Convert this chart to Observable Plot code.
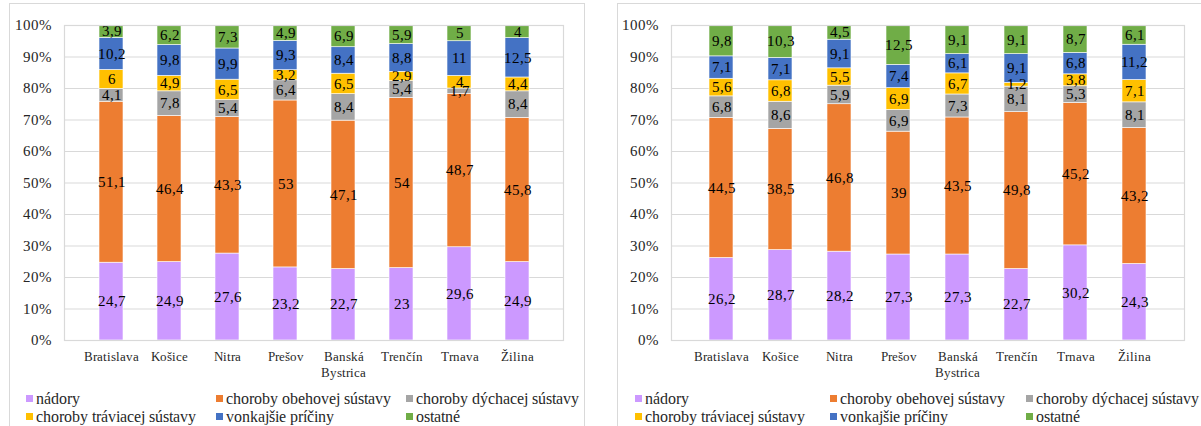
<!DOCTYPE html>
<html lang="sk"><head><meta charset="utf-8">
<script src="https://cdn.jsdelivr.net/npm/d3@7"></script>
<script src="https://cdn.jsdelivr.net/npm/@observablehq/plot@0.6"></script>
<style>
@font-face{font-family:"ChartSerif";src:local("Liberation Serif"),local("LiberationSerif"),local("LiberationSerif-Regular"),local("Times New Roman");}
html,body{margin:0;padding:0;background:#fff;width:1201px;height:426px;overflow:hidden;font-family:"ChartSerif","Liberation Serif","Times New Roman",serif;}
.box{position:absolute;border:1px solid #D9D9D9;box-sizing:border-box;}
.panel{position:absolute;top:0;}
.item{position:absolute;font-size:16px;color:#262626;white-space:nowrap;line-height:16px;height:16px;}
.item .sw{position:absolute;left:0;top:4px;width:7px;height:7px;}
.item .lb{position:absolute;left:10px;top:0;}
</style>
</head><body>
<div class="box" style="left:9px;top:3px;width:576px;height:440px;"></div>
<div class="box" style="left:617px;top:3px;width:600px;height:440px;"></div>
<div id="left" class="panel" style="left:0px;"></div>
<div id="right" class="panel" style="left:600px;"></div>
<div id="legL"></div>
<div id="legR"></div>
<script>
const regions = ["Bratislava","Košice","Nitra","Prešov","Banská Bystrica","Trenčín","Trnava","Žilina"];
const causes = ["nádory","choroby obehovej sústavy","choroby dýchacej sústavy","choroby tráviacej sústavy","vonkajšie príčiny","ostatné"];
const colors = ["#CC99FF","#ED7D31","#A5A5A5","#FFC000","#4472C4","#70AD47"];
const yTicks = [0,10,20,30,40,50,60,70,80,90,100];

// Left panel values (per cause, in region order)
const leftNadory    = [24.7, 24.9, 27.6, 23.2, 22.7, 23.0, 29.6, 24.9];
const leftObehovej  = [51.1, 46.4, 43.3, 53.0, 47.1, 54.0, 48.7, 45.8];
const leftDychacej  = [4.1, 7.8, 5.4, 6.4, 8.4, 5.4, 1.7, 8.4];
const leftTraviacej = [6.0, 4.9, 6.5, 3.2, 6.5, 2.9, 4.0, 4.4];
const leftVonkajsie = [10.2, 9.8, 9.9, 9.3, 8.4, 8.8, 11.0, 12.5];
const leftOstatne   = [3.9, 6.2, 7.3, 4.9, 6.9, 5.9, 5.0, 4.0];

// Right panel values
const rightNadory    = [26.2, 28.7, 28.2, 27.3, 27.3, 22.7, 30.2, 24.3];
const rightObehovej  = [44.5, 38.5, 46.8, 39.0, 43.5, 49.8, 45.2, 43.2];
const rightDychacej  = [6.8, 8.6, 5.9, 6.9, 7.3, 8.1, 5.3, 8.1];
const rightTraviacej = [5.6, 6.8, 5.5, 6.9, 6.7, 1.2, 3.8, 7.1];
const rightVonkajsie = [7.1, 7.1, 9.1, 7.4, 6.1, 9.1, 6.8, 11.2];
const rightOstatne   = [9.8, 10.3, 4.5, 12.5, 9.1, 9.1, 8.7, 6.1];

const FONT = "ChartSerif, 'Liberation Serif', 'Times New Roman', serif";
const fmt = v => String(v).replace(".", ",");

function makePanel(series, width, ml, mr) {
  const data = [];
  causes.forEach((c, i) => regions.forEach((r, j) => data.push({region: r, cause: c, value: series[i][j]})));
  const svg = Plot.plot({
    width, height: 426,
    marginLeft: ml, marginRight: mr, marginTop: 25, marginBottom: 86,
    x: {domain: regions, padding: 0.59, label: null, axis: null},
    y: {domain: [0, 100], label: null, axis: null},
    color: {domain: causes, range: colors},
    style: {fontFamily: FONT, background: "transparent", color: "#262626", overflow: "visible"},
    marks: [
      Plot.gridY(yTicks, {stroke: "#D9D9D9", strokeOpacity: 1, strokeWidth: 1}),
      Plot.barY(data, {x: "region", y: "value", fill: "cause", stroke: "white", strokeWidth: 0.6}),
      Plot.text(data, Plot.stackY({x: "region", y: "value", z: "cause", text: d => fmt(d.value), fontSize: 14.7, fill: "#000"})),
      Plot.frame({stroke: "#D9D9D9", strokeWidth: 1.2}),
      Plot.axisY({ticks: yTicks, tickFormat: d => d + "%", tickSize: 0, tickPadding: 13, fontSize: 15, label: null}),
      Plot.axisX({tickSize: 0, tickPadding: 9, fontSize: 13.3, lineHeight: 1.2, label: null, tickFormat: d => d.replace(" ", "\n")})
    ]
  });
  svg.querySelectorAll("text, tspan, g").forEach(t => {
    t.setAttribute("font-family", FONT);
    t.style.fontFamily = FONT;
  });
  return svg;
}

document.getElementById("left").append(makePanel(
  [leftNadory, leftObehovej, leftDychacej, leftTraviacej, leftVonkajsie, leftOstatne], 600, 64, 37));
document.getElementById("right").append(makePanel(
  [rightNadory, rightObehovej, rightDychacej, rightTraviacej, rightVonkajsie, rightOstatne], 601, 71, 17));

function legend(id, xs) {
  const el = document.getElementById(id);
  const rows = [391, 409];
  causes.forEach((c, i) => {
    const d = document.createElement("div");
    d.className = "item";
    d.style.left = xs[i % 3] + "px";
    d.style.top = rows[Math.floor(i / 3)] + "px";
    d.style.fontFamily = FONT;
    const sw = document.createElement("span");
    sw.className = "sw";
    sw.style.background = colors[i];
    const lb = document.createElement("span");
    lb.className = "lb";
    lb.style.fontFamily = FONT;
    lb.textContent = c;
    d.append(sw, lb);
    el.append(d);
  });
}
legend("legL", [26, 216, 406]);
legend("legR", [635, 830, 1026]);
</script>
</body></html>
